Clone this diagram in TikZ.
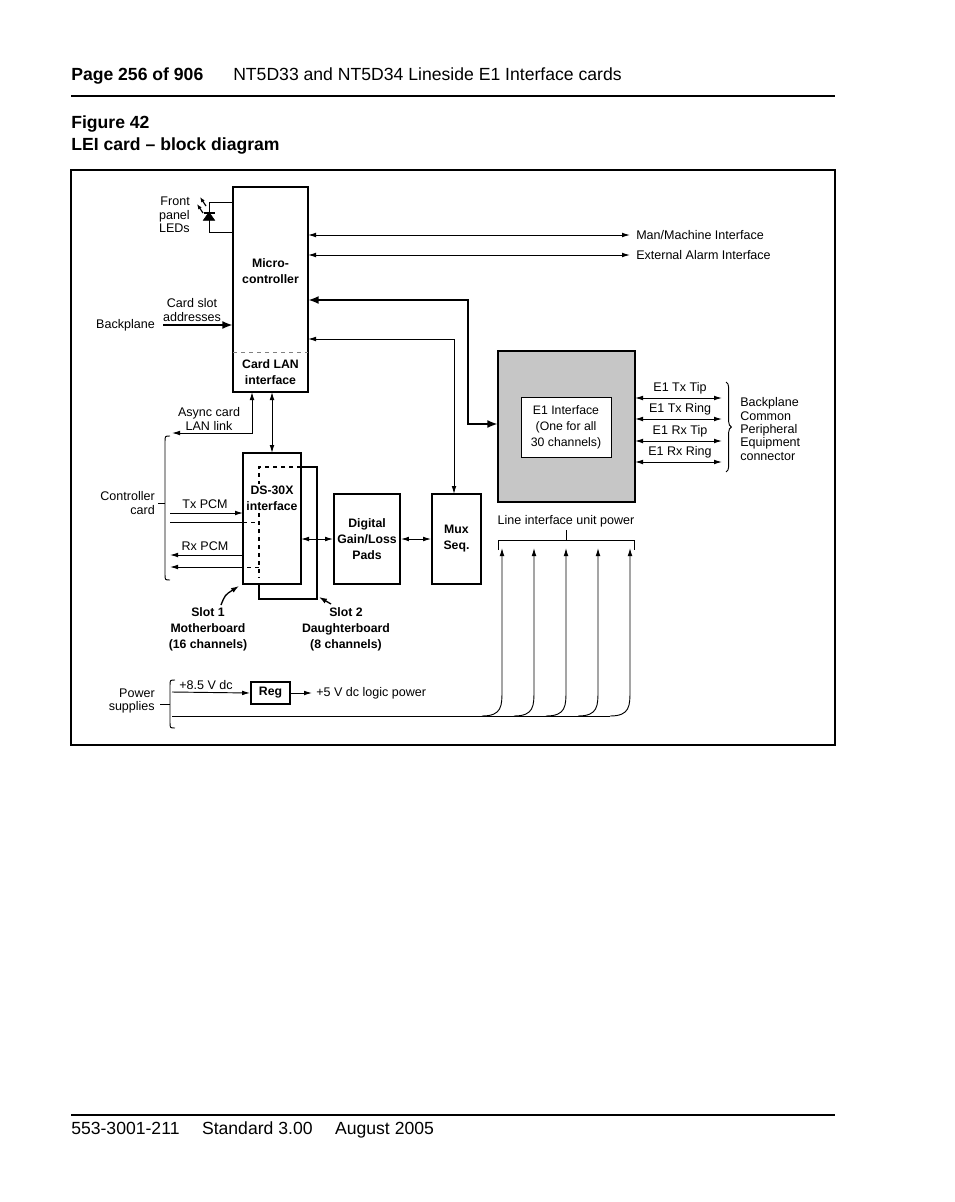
\documentclass[tikz,border=0pt]{standalone}
\usepackage{fontspec}
\setmainfont{Liberation Sans}
\usetikzlibrary{arrows.meta,decorations.pathreplacing,shapes.geometric}
\begin{document}
\begin{tikzpicture}[x=0.75pt,y=-0.75pt,
  lbl/.style={font=\fontsize{9.4}{10}\selectfont,inner sep=0pt,align=center},
  lbll/.style={lbl,align=left,anchor=west},
  lblr/.style={lbl,align=right,anchor=east},
  blbl/.style={font=\fontsize{9.2}{12}\selectfont\bfseries,inner sep=0pt,align=center},
  box/.style={draw,line width=1.4pt},
  tip/.style={-{Latex[length=6pt,width=3.5pt]}},
  ttip/.style={{Latex[length=6pt,width=3.5pt]}-{Latex[length=6pt,width=3.5pt]}},
  thk/.style={line width=1.8pt,{Latex[length=8pt,width=6pt]}-{Latex[length=8pt,width=6pt]}},
  thin/.style={line width=0.7pt}]
\useasboundingbox (0,0) rectangle (954,1202);
% header
\node[anchor=base west,inner sep=0pt,font=\fontsize{13.2}{15}\selectfont\bfseries] (ph) at (71,81) {Page 256 of 906};
\node[anchor=base west,inner sep=0pt,font=\fontsize{13.2}{15}\selectfont] (pt) at (233,81) {NT5D33 and NT5D34 Lineside E1 Interface cards};
\draw[line width=1pt] (71,96) coordinate (r1) -- (835,96) coordinate (r2);
\node[anchor=base west,inner sep=0pt,font=\fontsize{13.2}{15}\selectfont\bfseries] (f1) at (71,129) {Figure 42};
\node[anchor=base west,inner sep=0pt,font=\fontsize{13.2}{15}\selectfont\bfseries] (f2) at (71,151) {LEI card -- block diagram};
\draw[line width=1.2pt] (71,170) rectangle (835,745);
% footer
\draw[line width=1pt] (71,1115) coordinate (r3) -- (835,1115) coordinate (r4);
\node[anchor=base west,inner sep=0pt,font=\fontsize{13.2}{15}\selectfont] (ft) at (71,1134) {553-3001-211\quad\ Standard 3.00\quad\ August 2005};

% microcontroller
\node[box,minimum width=75*0.75pt,minimum height=205*0.75pt,inner sep=0pt] (mc) at (270.5,289.5) {};
\draw[dashed,gray,thin] (233,352) -- (308,352);
\node[blbl] (mct) at (270.5,271) {Micro-\\controller};
\node[blbl] (lan) at (270.5,372) {Card LAN\\interface};
% LEDs
\draw[thin] (233,202) -- (209,202) -- (209,232) -- (233,232);
\node[draw,fill=black,isosceles triangle,isosceles triangle apex angle=70,shape border rotate=90,minimum size=0pt,inner sep=1.8pt] (dio) at (209,218) {};
\draw[line width=0.9pt] (203.5,213) coordinate (d1) -- (214.5,213) coordinate (d2);
\draw[-{Latex[length=4pt,width=3pt]},line width=0.9pt] (203,213) -- (197,204);
\draw[-{Latex[length=4pt,width=3pt]},line width=0.9pt] (206,206) -- (200,197);
\node[lblr] (led) at (190,215) {Front\\panel\\LEDs};
% interfaces
\coordinate (mm) at (630,235);
\coordinate (ea) at (630,255);
\draw[ttip,thin] (308,235) -- (mm);
\draw[ttip,thin] (308,255) -- (ea);
\node[lbll] (mmt) at (636,235) {Man/Machine Interface};
\node[lbll] (eat) at (636,255) {External Alarm Interface};
% backplane
\coordinate (bp) at (163,325);
\draw[line width=1.8pt,-{Latex[length=8pt,width=6pt]}] (bp) -- (233,325);
\node[lbl] (cs) at (192,310) {Card slot\\addresses};
\node[lblr] (bpt) at (155,325) {Backplane};

% E1
\node[box,fill=gray!45,minimum width=137*0.75pt,minimum height=151*0.75pt,inner sep=0pt] (e1) at (566.5,426.5) {};
\node[draw,fill=white,thin,minimum width=90*0.75pt,minimum height=60*0.75pt,lbl,font=\fontsize{9.2}{12}\selectfont] (e1i) at (566,427) {E1 Interface\\(One for all\\30 channels)};
\draw[thk] (308,300) -- (468,300) -- (468,424) -- (498,424);
\foreach \y/\t in {398/E1 Tx Tip,419/E1 Tx Ring,441/E1 Rx Tip,462/E1 Rx Ring}{
  \draw[ttip,thin] (635,\y) -- (722,\y);
  \node[lbl] at (680,\y-10) {\t};
}
\draw[decorate,decoration={brace,amplitude=4pt},thin] (726,382) -- (726,472);
\node[lbll,align=left] (bpc) at (740,429) {Backplane\\Common\\Peripheral\\Equipment\\connector};

% DS30X
\draw[box] (301,467) -- (317,467) -- (317,599) -- (259,599) -- (259,584);
\node[box,fill=white,minimum width=58*0.75pt,minimum height=131*0.75pt,inner sep=0pt] (ds) at (272,518.5) {};
\draw[dashed,line width=1pt] (301,467) -- (259,467) -- (259,578);
\node[blbl,fill=white,inner sep=1pt] (dst) at (272,498) {DS-30X\\interface};
\node[box,minimum width=66*0.75pt,minimum height=90*0.75pt,inner sep=0pt,blbl] (dg) at (367,539) {Digital\\Gain/Loss\\Pads};
\node[box,minimum width=49*0.75pt,minimum height=90*0.75pt,inner sep=0pt,blbl] (mux) at (456.5,539) {Mux\\Seq.};
\draw[ttip,thin] (301,539) -- (dg.west);
\draw[ttip,thin] (dg.east) -- (mux.west);
\draw[tip,thin] (330,339) -- (454,339) -- (454,494);
\draw[{Latex[length=6pt,width=3.5pt]}-,thin] (308,339) -- (330,339);
% card LAN links
\draw[ttip,thin] (272,392) -- (272,453);
\draw[tip,thin] (252,400) -- (252,433) -- (172,433);
\draw[tip,thin] (252,400) -- (252,392);
\node[lbl] (asy) at (209,419) {Async card\\LAN link};
\draw[thin] (170,436) .. controls (165,436) .. (165,442) -- (165,574) .. controls (165,580) .. (170,580);
\draw[thin] (165,503) -- (158,503);
\node[lblr] (cc) at (155,503) {Controller\\card};
% PCM
\draw[tip,thin] (170,513) -- (243,513);
\node[lbl] (tx) at (205,504) {Tx PCM};
\draw[thin] (170,522) -- (243,522);
\draw[dashed,thin] (243,522) -- (259,522);
\draw[tip,thin] (243,555) -- (170,555);
\node[lbl] (rx) at (205,546) {Rx PCM};
\draw[dashed,thin] (259,567) -- (243,567);
\draw[tip,thin] (243,567) -- (170,567);
% slot labels
\node[blbl] (s1) at (208,629) {Slot 1\\Motherboard\\(16 channels)};
\node[blbl] (s2) at (346,629) {Slot 2\\Daughterboard\\(8 channels)};
\draw[line width=1pt,-{Latex[length=6pt,width=4pt]}] (221,605) .. controls (225,595) .. (239,586);
\draw[line width=1pt,-{Latex[length=6pt,width=4pt]}] (331,604) -- (319,597);

% line interface unit power
\node[lbl] (liu) at (566,521) {Line interface unit power};
\draw[thin] (498,550) -- (498,540) -- (634,540) -- (634,550);
\draw[thin] (566,540) -- (566,530);
% power
\draw[thin] (175,680) .. controls (170,680) .. (170,686) -- (170,722) .. controls (170,728) .. (175,728);
\draw[thin] (170,704) -- (160,704);
\node[lblr] (ps) at (155,701) {Power\\supplies};
\node[box,blbl,minimum width=39*0.75pt,minimum height=22*0.75pt,inner sep=0pt] (reg) at (270.5,693) {Reg};
\draw[tip,thin] (172,692) -- (reg.west);
\node[lbl] (p85) at (206,685) {+8.5 V dc};
\draw[tip,thin] (reg.east) -- (312,693);
\node[lbll] (p5) at (316,693) {+5 V dc logic power};
\draw[thin] (172,716) -- (482,716);
\foreach \x in {502,534,566,598,630}{
  \draw[thin,tip] (\x-20,716) .. controls (\x,716) and (\x,706) .. (\x,690) -- (\x,548);
}
\foreach \x in {502,534,566,598}{
  \draw[thin] (\x-20,716) -- (\x+12,716);
}
\end{tikzpicture}
\end{document}
